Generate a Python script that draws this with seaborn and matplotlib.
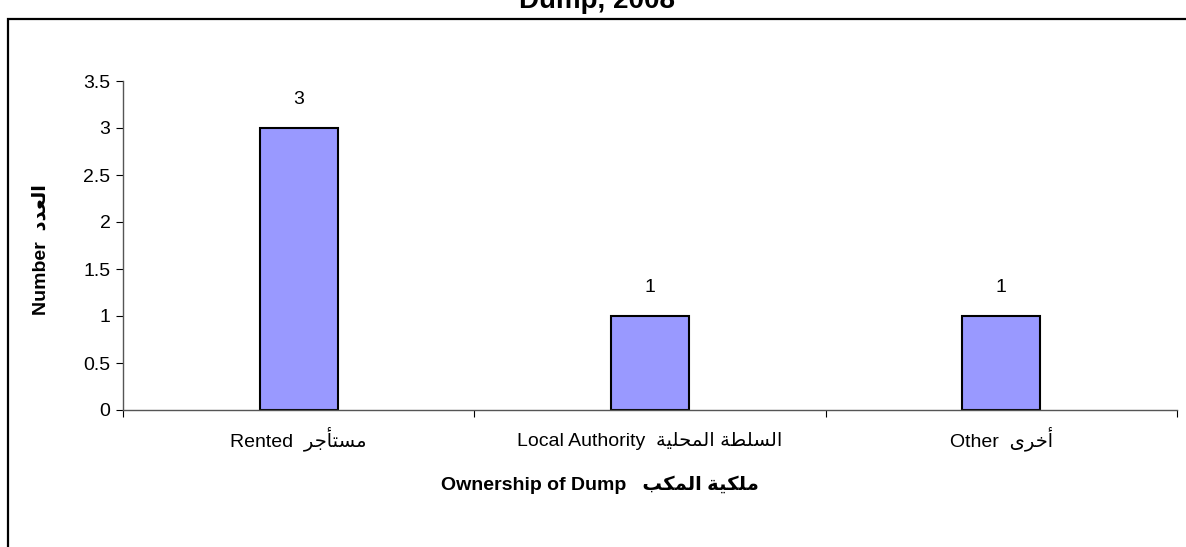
import pandas as pd
import matplotlib.pyplot as plt
import matplotlib.patches as patches
from matplotlib.ticker import FixedLocator
import seaborn as sns

# Chart data
owners_en = ['Rented', 'Local Authority', 'Other']
owners_ar = ['مستأجر', 'السلطة المحلية', 'أخرى']
counts = [3, 1, 1]
y_ticks = [0, 0.5, 1, 1.5, 2, 2.5, 3, 3.5]

title_text = 'Dump, 2008'
xlabel_en, xlabel_ar = 'Ownership of Dump', 'ملكية المكب'
ylabel_en, ylabel_ar = 'Number', 'العدد'

# matplotlib 3.10 does not join Arabic letters, so map to presentation forms
# (isolated, final, initial, medial)
FORMS = {
    'ا': ('\uFE8D', '\uFE8E', None, None),
    'أ': ('\uFE83', '\uFE84', None, None),
    'ب': ('\uFE8F', '\uFE90', '\uFE91', '\uFE92'),
    'ة': ('\uFE93', '\uFE94', None, None),
    'ت': ('\uFE95', '\uFE96', '\uFE97', '\uFE98'),
    'ج': ('\uFE9D', '\uFE9E', '\uFE9F', '\uFEA0'),
    'ح': ('\uFEA1', '\uFEA2', '\uFEA3', '\uFEA4'),
    'خ': ('\uFEA5', '\uFEA6', '\uFEA7', '\uFEA8'),
    'د': ('\uFEA9', '\uFEAA', None, None),
    'ر': ('\uFEAD', '\uFEAE', None, None),
    'س': ('\uFEB1', '\uFEB2', '\uFEB3', '\uFEB4'),
    'ط': ('\uFEC1', '\uFEC2', '\uFEC3', '\uFEC4'),
    'ع': ('\uFEC9', '\uFECA', '\uFECB', '\uFECC'),
    'ك': ('\uFED9', '\uFEDA', '\uFEDB', '\uFEDC'),
    'ل': ('\uFEDD', '\uFEDE', '\uFEDF', '\uFEE0'),
    'م': ('\uFEE1', '\uFEE2', '\uFEE3', '\uFEE4'),
    'ى': ('\uFEEF', '\uFEF0', None, None),
    'ي': ('\uFEF1', '\uFEF2', '\uFEF3', '\uFEF4'),
}


def shape_ar(text):
    out = []
    for i, ch in enumerate(text):
        f = FORMS.get(ch)
        if f is None:
            out.append(ch)
            continue
        prev = text[i - 1] if i > 0 else None
        nxt = text[i + 1] if i + 1 < len(text) else None
        join_prev = prev in FORMS and FORMS[prev][2] is not None
        join_next = nxt in FORMS and f[2] is not None
        if join_prev and join_next:
            out.append(f[3])
        elif join_prev:
            out.append(f[1])
        elif join_next:
            out.append(f[2])
        else:
            out.append(f[0])
    return ''.join(reversed(out))


sns.set_style('white')
plt.rcParams['font.family'] = ['Liberation Sans', 'DejaVu Sans']
plt.rcParams['text.color'] = 'black'
plt.rcParams['xtick.color'] = 'black'
plt.rcParams['ytick.color'] = 'black'

df = pd.DataFrame({'owner': owners_en, 'count': counts})

W, H = 1186, 547
fig = plt.figure(figsize=(W / 100, H / 100), dpi=100)
ax = fig.add_axes([123 / W, 1 - 410 / H, (1177 - 123) / W, (410 - 81) / H])

sns.barplot(data=df, x='owner', y='count', ax=ax, color='#9999FF',
            saturation=1, width=0.222, edgecolor='black', linewidth=1.5)

ax.set_ylim(0, 3.5)
ax.set_xlim(-0.5, 2.5)
ax.set_yticks(y_ticks)
ax.set_yticklabels([f'{v:g}' for v in y_ticks], fontsize=14)
ax.set_xticks(range(len(owners_en)))
ax.set_xticklabels([f'{en}  {shape_ar(ar)}' for en, ar in zip(owners_en, owners_ar)],
                   fontsize=14)
for lbl in ax.get_xticklabels():
    lbl.set_va('baseline')
ax.xaxis.set_minor_locator(FixedLocator([-0.5, 0.5, 1.5, 2.5]))
ax.tick_params(axis='x', which='major', length=0, pad=26)
ax.tick_params(axis='x', which='minor', length=5, width=0.8, color='black',
               direction='out', bottom=True)
ax.tick_params(axis='y', length=5, width=0.8, color='black', direction='out',
               left=True, pad=4)
ax.set_xlabel('')
ax.set_ylabel('')

for side in ['top', 'right']:
    ax.spines[side].set_visible(False)
for side in ['left', 'bottom']:
    ax.spines[side].set_color('#555555')
    ax.spines[side].set_linewidth(1)

for i, v in enumerate(counts):
    ax.annotate(f'{v}', (i, v), xytext=(0, 17), textcoords='offset points',
                ha='center', va='baseline', fontsize=14)

# axis titles and chart title
fig.text(600 / W, 1 - 490 / H, f'{xlabel_en}   {shape_ar(xlabel_ar)}',
         ha='center', va='baseline', fontsize=14, fontweight='bold')
fig.text(41 / W, 1 - 250 / H, f'{ylabel_en}  {shape_ar(ylabel_ar)}',
         ha='center', va='center', rotation=90, fontsize=14, fontweight='bold')
fig.text(597 / W, 1 - 8 / H, title_text, ha='center', va='baseline',
         fontsize=20, fontweight='bold')

# chart frame (cut off at the right and bottom)
fig.patches.append(patches.Rectangle((8 / W, -0.2), 1.2, 1.2 - 19 / H,
                                     transform=fig.transFigure, fill=False,
                                     edgecolor='black', linewidth=1.6))

fig.savefig('out.png', dpi=100, facecolor='white')
